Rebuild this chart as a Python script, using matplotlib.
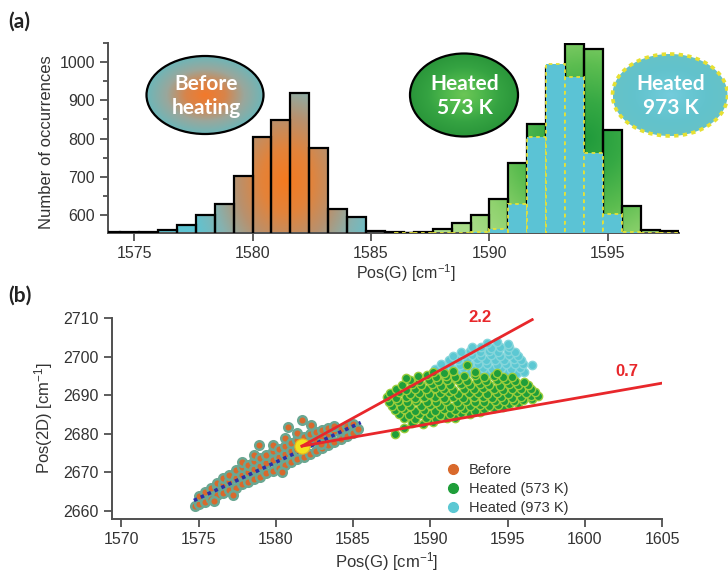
import numpy as np
import matplotlib
matplotlib.use('Agg')
import matplotlib.pyplot as plt
from matplotlib.colors import LinearSegmentedColormap
from matplotlib.patches import Ellipse, PathPatch
from matplotlib.path import Path
from matplotlib.lines import Line2D

plt.rcParams['font.family'] = ['Liberation Sans', 'DejaVu Sans']
plt.rcParams['mathtext.default'] = 'regular'

# --- (a) histograms of Pos(G), bins 0.8 cm-1 wide ---
bin_width = 0.8
before_bins = [1573.6, 1574.4, 1575.2, 1576.0, 1576.8, 1577.6, 1578.4, 1579.2, 1580.0,
               1580.8, 1581.6, 1582.4, 1583.2, 1584.0, 1584.8, 1585.6, 1586.4]
before_counts = [555, 556, 556, 561, 574, 600, 628, 702, 805,
                 848, 918, 776, 615, 594, 557, 556, 554]

heated_bins = [1586.0, 1586.8, 1587.6, 1588.4, 1589.2, 1590.0, 1590.8, 1591.6,
               1592.4, 1593.2, 1594.0, 1594.8, 1595.6, 1596.4, 1597.2]
heated_573_counts = [554, 555, 563, 579, 600, 643, 737, 839,
                     985, 1048, 1033, 822, 624, 562, 557]
heated_973_counts = [553, 553, 553, 554, 556, 563, 629, 803,
                     994, 961, 763, 604, 556, 553, 553]

# --- (b) Pos(2D) vs Pos(G) ---
before_g = [
    1574.8, 1575.0, 1575.0, 1575.4, 1575.4, 1575.8, 1575.8, 1576.2, 1576.2, 1576.2,
    1576.6, 1576.6, 1576.6, 1577.0, 1577.0, 1577.0, 1577.4, 1577.4, 1577.4, 1577.8,
    1577.8, 1577.8, 1577.8, 1578.2, 1578.2, 1578.2, 1578.6, 1578.6, 1578.6, 1578.6,
    1579.0, 1579.0, 1579.0, 1578.9, 1579.4, 1579.4, 1579.4, 1579.8, 1579.8, 1579.8,
    1579.8, 1580.2, 1580.2, 1580.2, 1580.6, 1580.6, 1580.6, 1580.6, 1581.0, 1581.0,
    1581.0, 1580.8, 1581.4, 1581.4, 1581.4, 1581.4, 1581.8, 1581.8, 1581.8, 1581.7,
    1582.2, 1582.2, 1582.2, 1582.3, 1582.6, 1582.6, 1582.6, 1583.0, 1583.0, 1583.0,
    1583.4, 1583.4, 1583.4, 1583.8, 1583.8, 1583.8, 1584.2, 1584.2, 1584.6, 1584.6,
    1585.0, 1585.0, 1585.3, 1577.2, 1576.0, 1580.4, 1582.9]
before_2d = [
    2661.3, 2661.9, 2663.9, 2662.4, 2664.9, 2663.2, 2666.0, 2664.0, 2666.4, 2667.3,
    2664.7, 2667.0, 2668.6, 2665.3, 2667.8, 2669.4, 2666.0, 2668.6, 2670.5, 2666.9,
    2669.2, 2671.3, 2672.8, 2667.5, 2670.1, 2672.0, 2668.2, 2670.9, 2673.0, 2674.6,
    2668.9, 2671.6, 2673.8, 2677.1, 2669.7, 2672.4, 2674.5, 2670.4, 2673.1, 2675.4,
    2677.0, 2671.1, 2673.9, 2676.0, 2671.9, 2674.7, 2676.9, 2679.0, 2672.6, 2675.5,
    2677.6, 2681.8, 2673.4, 2676.1, 2678.5, 2680.3, 2674.0, 2676.9, 2679.2, 2683.6,
    2674.8, 2677.8, 2680.0, 2682.3, 2675.5, 2678.4, 2680.5, 2676.3, 2679.2, 2681.0,
    2677.1, 2679.9, 2681.4, 2677.8, 2680.6, 2682.0, 2678.6, 2681.3, 2679.3, 2681.9,
    2680.2, 2682.5, 2681.3, 2664.2, 2662.6, 2670.0, 2677.3]

heated_573_g = [
    1587.7, 1588.3,
    1588.8, 1589.5, 1590.2,
    1588.3, 1589.0, 1589.7, 1590.4, 1591.1, 1591.6,
    1588.0, 1588.6, 1589.3, 1590.0, 1590.6, 1591.3, 1592.0, 1592.6, 1593.2,
    1587.7, 1588.3, 1589.0, 1589.6, 1590.3, 1590.9, 1591.6, 1592.2, 1592.9, 1593.5, 1594.1, 1594.7,
    1587.5, 1588.1, 1588.7, 1589.4, 1590.0, 1590.6, 1591.3, 1591.9, 1592.6, 1593.2, 1593.8, 1594.4,
    1595.1, 1595.7,
    1587.3, 1587.9, 1588.5, 1589.1, 1589.8, 1590.4, 1591.0, 1591.7, 1592.3, 1592.9, 1593.5, 1594.2,
    1594.8, 1595.4, 1596.0, 1596.6,
    1587.2, 1587.8, 1588.4, 1589.0, 1589.6, 1590.3, 1590.9, 1591.5, 1592.1, 1592.8, 1593.4, 1594.0,
    1594.6, 1595.3, 1595.9, 1596.5, 1597.0,
    1587.4, 1588.0, 1588.7, 1589.3, 1589.9, 1590.6, 1591.2, 1591.8, 1592.5, 1593.1, 1593.7, 1594.3,
    1595.0, 1595.6, 1596.2, 1596.8,
    1587.8, 1588.4, 1589.0, 1589.7, 1590.3, 1590.9, 1591.5, 1592.2, 1592.8, 1593.4, 1594.1, 1594.7,
    1595.3, 1595.9, 1596.5,
    1588.2, 1588.8, 1589.4, 1590.1, 1590.7, 1591.3, 1592.0, 1592.6, 1593.2, 1593.8, 1594.5, 1595.1,
    1595.7, 1596.3,
    1588.7, 1589.3, 1589.9, 1590.5, 1591.1, 1591.8, 1592.4, 1593.0, 1593.6, 1594.3, 1594.9, 1595.5,
    1596.1,
    1588.4, 1589.2, 1589.8, 1590.4, 1591.0, 1591.6, 1592.2, 1592.9, 1593.5, 1594.1, 1594.7, 1595.3,
    1590.2, 1590.9, 1591.5, 1592.9, 1594.3,
    1592.4]
heated_573_2d = [
    2679.9, 2681.4,
    2682.8, 2682.6, 2683.0,
    2684.0, 2683.8, 2684.1, 2683.9, 2684.2, 2684.0,
    2685.1, 2684.9, 2685.2, 2685.0, 2684.8, 2685.1, 2685.3, 2685.0, 2685.6,
    2686.1, 2686.3, 2685.9, 2686.2, 2686.0, 2686.3, 2686.1, 2686.4, 2686.0, 2686.5, 2686.8, 2687.0,
    2687.2, 2687.0, 2687.3, 2687.1, 2687.4, 2687.2, 2687.0, 2687.3, 2687.1, 2687.4, 2687.2, 2687.5,
    2687.8, 2688.0,
    2688.3, 2688.5, 2688.2, 2688.4, 2688.1, 2688.3, 2688.5, 2688.2, 2688.4, 2688.3, 2688.1, 2688.4,
    2688.6, 2688.5, 2688.8, 2689.0,
    2689.4, 2689.2, 2689.5, 2689.3, 2689.6, 2689.4, 2689.2, 2689.5, 2689.3, 2689.6, 2689.4, 2689.2,
    2689.5, 2689.3, 2689.6, 2689.8, 2689.9,
    2690.5, 2690.7, 2690.4, 2690.6, 2690.3, 2690.5, 2690.7, 2690.4, 2690.6, 2690.5, 2690.3, 2690.6,
    2690.4, 2690.7, 2690.5, 2690.8,
    2691.6, 2691.4, 2691.7, 2691.5, 2691.8, 2691.6, 2691.4, 2691.7, 2691.5, 2691.8, 2691.6, 2691.4,
    2691.7, 2691.5, 2691.6,
    2692.7, 2692.9, 2692.6, 2692.8, 2692.5, 2692.7, 2692.9, 2692.6, 2692.8, 2692.7, 2692.5, 2692.8,
    2692.6, 2692.7,
    2693.8, 2693.6, 2693.9, 2693.7, 2694.0, 2693.8, 2693.6, 2693.9, 2693.7, 2694.0, 2693.8, 2693.6,
    2693.5,
    2694.4, 2694.9, 2695.1, 2694.8, 2695.0, 2694.7, 2694.9, 2695.1, 2694.8, 2695.0, 2694.7, 2694.6,
    2696.0, 2695.8, 2696.2, 2695.9, 2695.7,
    2697.8]

heated_973_g = [
    1590.8, 1591.4, 1592.0, 1592.6, 1593.2, 1593.8, 1594.4, 1595.0, 1595.6, 1596.1,
    1590.3, 1590.9, 1591.5, 1592.1, 1592.8, 1593.4, 1594.0, 1594.6, 1595.2, 1595.8,
    1590.7, 1591.3, 1591.9, 1592.5, 1593.1, 1593.7, 1594.3, 1594.9, 1595.5, 1596.0, 1596.6,
    1591.2, 1591.8, 1592.4, 1593.0, 1593.6, 1594.2, 1594.8, 1595.4, 1595.9,
    1591.5, 1592.1, 1592.7, 1593.3, 1593.9, 1594.5, 1595.1, 1595.7,
    1592.0, 1592.6, 1593.2, 1593.8, 1594.4, 1595.0, 1595.5,
    1592.7, 1593.3, 1593.9, 1594.5, 1595.1,
    1593.7, 1594.3, 1595.0]
heated_973_2d = [
    2695.8, 2695.9, 2695.7, 2696.0, 2695.8, 2695.9, 2695.7, 2696.0, 2695.8, 2695.9,
    2696.9, 2697.0, 2696.8, 2697.1, 2696.9, 2697.0, 2696.8, 2697.1, 2696.9, 2697.0,
    2698.0, 2698.1, 2697.9, 2698.2, 2698.0, 2698.1, 2697.9, 2698.2, 2698.0, 2698.1, 2697.8,
    2699.1, 2699.2, 2699.0, 2699.3, 2699.1, 2699.2, 2699.0, 2699.3, 2699.1,
    2700.2, 2700.4, 2700.3, 2700.1, 2700.4, 2700.2, 2700.3, 2700.1,
    2701.3, 2701.5, 2701.2, 2701.4, 2701.3, 2701.5, 2701.2,
    2702.4, 2702.6, 2702.3, 2702.5, 2702.4,
    2703.5, 2703.7, 2703.3]

# mean position before heating and strain/doping slopes through it
mean_before = (1581.7, 2676.8)
slopes = [2.2, 0.7]
slope_end_g = [1596.6, 1605.0]
fit_g = [1574.7, 1585.5]
fit_2d = [2662.7, 2682.9]


def gradient_fill(ax, clip_patch, colors, center, scale, extent, zorder, rmax=1.0):
    cmap = LinearSegmentedColormap.from_list('grad', colors)
    x0, x1, y0, y1 = extent
    gx, gy = np.meshgrid(np.linspace(x0, x1, 300), np.linspace(y0, y1, 300))
    r = np.hypot((gx - center[0]) / scale[0], (gy - center[1]) / scale[1])
    im = ax.imshow(np.clip(r / rmax, 0, 1), cmap=cmap, vmin=0, vmax=1, extent=extent,
                   origin='lower', aspect='auto', zorder=zorder, interpolation='bilinear')
    im.set_clip_path(clip_patch)
    return im


def bars_clip(ax, bars):
    path = Path.make_compound_path(*[b.get_path().transformed(b.get_patch_transform())
                                     for b in bars])
    patch = PathPatch(path, transform=ax.transData, facecolor='none', edgecolor='none')
    ax.add_patch(patch)
    return patch


def style_axes(ax):
    for side in ['top', 'right']:
        ax.spines[side].set_visible(False)
    for side in ['left', 'bottom']:
        ax.spines[side].set_color('#505050')
        ax.spines[side].set_linewidth(1.4)
    ax.tick_params(which='both', direction='out', color='#505050', width=1.3,
                   labelsize=11.5, labelcolor='#333333')
    ax.tick_params(which='major', length=6)
    ax.tick_params(which='minor', length=3.5)


fig = plt.figure(figsize=(7.28, 5.82), dpi=100)
ax_a = fig.add_axes([108 / 728, 1 - 233 / 582, 571 / 728, 190 / 582])
ax_b = fig.add_axes([112 / 728, 1 - 519 / 582, 550 / 728, 201 / 582])

# ---------- panel (a) ----------
b_before = ax_a.bar(before_bins, before_counts, width=bin_width, align='edge',
                    facecolor='none', edgecolor='black', linewidth=1.6, zorder=3)
gradient_fill(ax_a, bars_clip(ax_a, b_before),
              ['#f57a1f', '#e3833a', '#b8916e', '#86b2b0', '#5ec4d2'],
              (1581.4, 690), (3.3, 270), (1573, 1588, 540, 1060), zorder=2, rmax=1.25)

b_573 = ax_a.bar(heated_bins, heated_573_counts, width=bin_width, align='edge',
                 facecolor='none', edgecolor='black', linewidth=1.6, zorder=3)
gradient_fill(ax_a, bars_clip(ax_a, b_573),
              ['#1f9a3b', '#36a944', '#5cbd50', '#8fd26e', '#aadd8a'],
              (1594.0, 800), (4.8, 300), (1585, 1599, 540, 1060), zorder=2, rmax=1.3)

ax_a.bar(heated_bins, heated_973_counts, width=bin_width, align='edge',
         facecolor='#5bc3d5', edgecolor='#e4e238', linewidth=1.3, linestyle=(0, (2, 2)),
         zorder=4)

ax_a.set_xlim(1573.9, 1598.0)
ax_a.set_ylim(553, 1050)
ax_a.set_xticks([1575, 1580, 1585, 1590, 1595])
ax_a.set_yticks([600, 700, 800, 900, 1000])
ax_a.set_yticks([650, 750, 850, 950, 1050], minor=True)
style_axes(ax_a)
ax_a.set_ylabel('Number of occurrences', fontsize=12, color='#333333')
ax_a.yaxis.set_label_coords(-0.094, 0.48)
ax_a.set_xlabel(r'Pos(G) [cm$^{-1}$]', fontsize=11.5, color='#333333')
ax_a.xaxis.set_label_coords(0.522, -0.155)

# ---------- panel (b) ----------
ax_b.scatter(before_g, before_2d, s=38, facecolor='#d9692c', edgecolor='#6aa792',
             linewidth=1.8, zorder=3)
ax_b.scatter(heated_973_g, heated_973_2d, s=36, facecolor='#5cc8d3', edgecolor='#86d6db',
             linewidth=1.0, zorder=3)
ax_b.scatter(heated_573_g, heated_573_2d, s=36, facecolor='#1f9e3a', edgecolor='#9ccd3c',
             linewidth=1.0, zorder=4)
ax_b.plot(fit_g, fit_2d, color='#2b2fa8', linestyle=(0, (1, 1.1)), linewidth=2.6, zorder=5)
ax_b.scatter([mean_before[0]], [mean_before[1]], s=120, facecolor='#f3e21c',
             edgecolor='#e8b020', linewidth=0.8, zorder=6)

for k, x_end in zip(slopes, slope_end_g):
    xs = [mean_before[0], x_end]
    ys = [mean_before[1], mean_before[1] + k * (x_end - mean_before[0])]
    ax_b.plot(xs, ys, color='#e8272b', linewidth=2.0, zorder=7)
ax_b.text(1593.2, 2710.0, f'{slopes[0]}', color='#e8272b', fontsize=12, fontweight='bold',
          ha='center', va='center')
ax_b.text(1602.7, 2696.2, f'{slopes[1]}', color='#e8272b', fontsize=12, fontweight='bold',
          ha='center', va='center')

ax_b.set_xlim(1569.4, 1605.0)
ax_b.set_ylim(2657.9, 2710.0)
ax_b.set_xticks([1570, 1575, 1580, 1585, 1590, 1595, 1600, 1605])
ax_b.set_yticks([2660, 2670, 2680, 2690, 2700, 2710])
style_axes(ax_b)
ax_b.set_xlabel(r'Pos(G) [cm$^{-1}$]', fontsize=12, color='#333333', labelpad=2)
ax_b.set_ylabel(r'Pos(2D) [cm$^{-1}$]', fontsize=12, color='#333333', labelpad=6)

handles = [Line2D([], [], marker='o', linestyle='none', markersize=7, markerfacecolor=c,
                  markeredgecolor=c) for c in ['#d9692c', '#1f9e3a', '#5cc8d3']]
ax_b.legend(handles, ['Before', 'Heated (573 K)', 'Heated (973 K)'], loc='upper left',
            bbox_to_anchor=(0.585, 0.33), frameon=False, fontsize=10.5, handletextpad=0.5,
            labelspacing=0.35, borderpad=0.2, handlelength=1.2,
            labelcolor='#333333')

# ---------- overlay: panel letters and sample badges (pixel coordinates) ----------
ax_o = fig.add_axes([0, 0, 1, 1], zorder=10)
ax_o.set_facecolor('none')
ax_o.axis('off')

badges = [
    ('Before\nheating', (205, 95), 117, 78, ['#f3792a', '#d8844a', '#9aa79c', '#6db6b8'],
     'black', '-', 1.6),
    ('Heated\n573 K', (464, 95), 108, 83, ['#6cc656', '#4fb84c', '#35a342', '#2a963a'],
     'black', '-', 1.6),
    ('Heated\n973 K', (670, 95), 115, 82, ['#74ccdc', '#68c7d3', '#62c2cc', '#66c3c8'],
     '#e6e033', (0, (1.2, 1.2)), 2.6),
]
for text, (cx, cy), w, h, cols, ec, ls, lw in badges:
    ell = Ellipse((cx, cy), w, h, facecolor='none', edgecolor='none')
    ax_o.add_patch(ell)
    gradient_fill(ax_o, ell, cols, (cx, cy), (w / 2, h / 2),
                  (cx - w / 2, cx + w / 2, cy - h / 2, cy + h / 2), zorder=1)
    ax_o.add_patch(Ellipse((cx, cy), w, h, facecolor='none', edgecolor=ec,
                           linestyle=ls, linewidth=lw, zorder=2))
    ax_o.text(cx + 1, cy + 1, text, ha='center', va='center', color='white',
              fontsize=15, fontweight='bold', family=['Lato', 'DejaVu Sans'],
              linespacing=1.3, zorder=3)

ax_o.text(8, 22, '(a)', fontsize=15, fontweight='bold', family=['Lato', 'DejaVu Sans'],
          va='center', color='#222222')
ax_o.text(8, 296, '(b)', fontsize=15, fontweight='bold', family=['Lato', 'DejaVu Sans'],
          va='center', color='#222222')
ax_o.set_xlim(0, 728)
ax_o.set_ylim(582, 0)

fig.savefig('out.png', dpi=100)
